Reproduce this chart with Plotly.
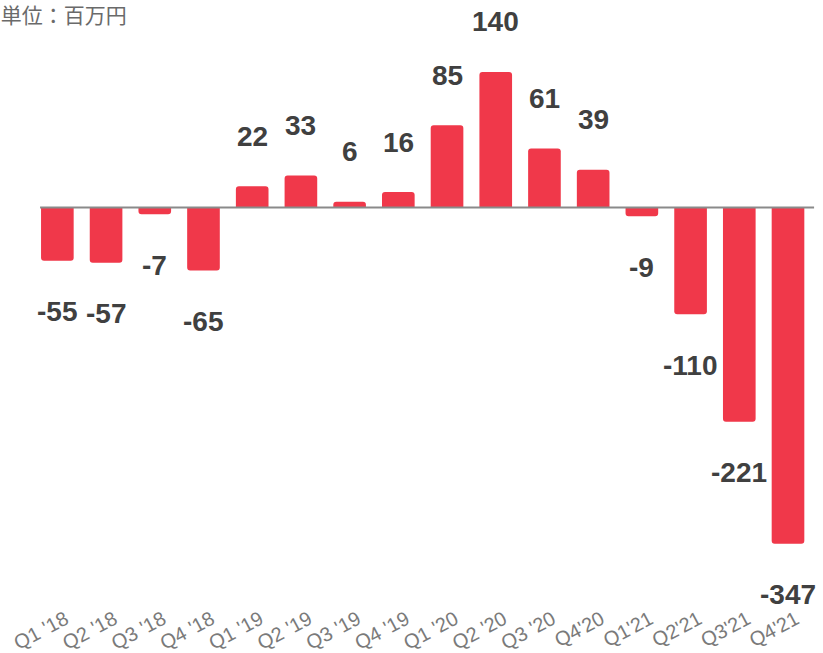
import plotly.graph_objects as go

quarters = ["Q1 '18", "Q2 '18", "Q3 '18", "Q4 '18", "Q1 '19", "Q2 '19", "Q3 '19", "Q4 '19",
            "Q1 '20", "Q2 '20", "Q3 '20", "Q4'20", "Q1'21", "Q2'21", "Q3'21", "Q4'21"]
values = [-55, -57, -7, -65, 22, 33, 6, 16, 85, 140, 61, 39, -9, -110, -221, -347]
unit_label = "単位：百万円"

bar_color = "#F0384A"
label_color = "#404040"

fig = go.Figure()
fig.add_trace(go.Bar(
    x=quarters, y=values,
    marker=dict(color=bar_color, cornerradius=3, line=dict(width=0)),
    width=0.67,
    hoverinfo="x+y",
))

for q, v in zip(quarters, values):
    fig.add_annotation(
        x=q, y=v, text="<b>%d</b>" % v, showarrow=False,
        yanchor="middle", xanchor="center",
        yshift=50 if v >= 0 else -51,
        font=dict(family="Liberation Sans, Arial, sans-serif", size=28, color=label_color),
    )

fig.add_shape(type="line", xref="paper", yref="y", x0=0.009, x1=0.995, y0=0, y1=0,
              line=dict(color="#8a8a8a", width=2), layer="above")

fig.update_layout(
    width=823, height=653,
    margin=dict(l=33, r=5, t=8, b=55, autoexpand=False),
    paper_bgcolor="white", plot_bgcolor="white",
    showlegend=False,
    font=dict(family="Liberation Sans, Arial, sans-serif"),
    title=dict(text=unit_label, xref="container", yref="container", x=0.001, y=0.987,
               xanchor="left", yanchor="top", pad=dict(l=0, t=0),
               font=dict(family="Noto Sans CJK JP, sans-serif", size=21, color="#6a6a6a")),
)
fig.update_xaxes(
    tickangle=-28, showgrid=False, showline=False, zeroline=False, ticks="",
    automargin=False, ticklabelshift=8, ticklabelstandoff=5,
    tickfont=dict(size=20, color="#7a7a7a", family="Liberation Sans, Arial, sans-serif"),
)
fig.update_yaxes(range=[-403, 206], visible=False, showgrid=False, zeroline=False, automargin=False)

fig.write_html("out.html", config={"displayModeBar": False},
               post_script="document.body.style.margin='0';document.body.style.overflow='hidden';")
